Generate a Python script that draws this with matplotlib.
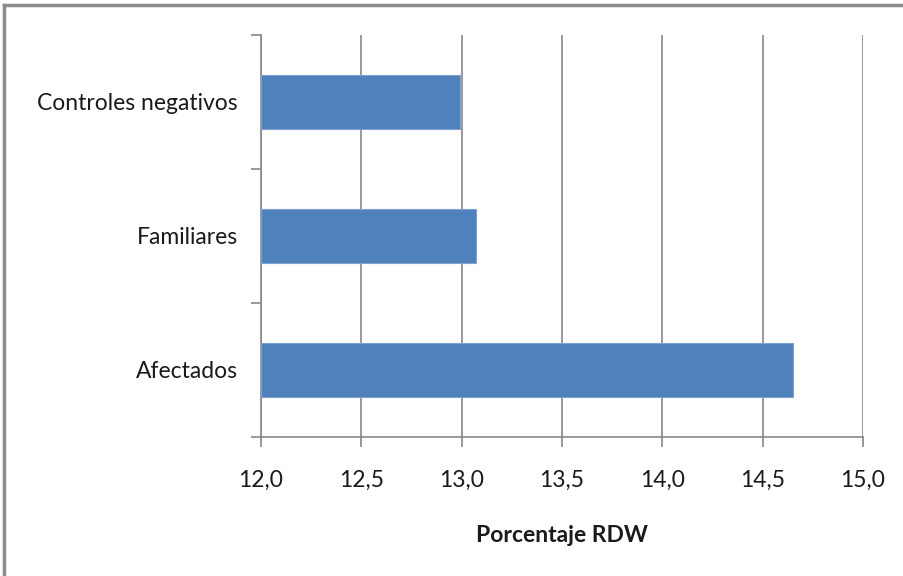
import matplotlib
matplotlib.use("Agg")
import matplotlib.pyplot as plt
from matplotlib.lines import Line2D

categories = ["Afectados", "Familiares", "Controles negativos"]
values = [14.65, 13.07, 12.99]
xticks = [12.0, 12.5, 13.0, 13.5, 14.0, 14.5, 15.0]
xtick_labels = ["12,0", "12,5", "13,0", "13,5", "14,0", "14,5", "15,0"]

W, H = 904, 576
fig = plt.figure(figsize=(W / 100, H / 100), dpi=100)
plt.rcParams['font.family'] = ['Lato', 'DejaVu Sans']

# axes box in pixels: x 261..863, y 35..437
ax = fig.add_axes([261 / W, 1 - 437 / H, (863 - 261) / W, (437 - 35) / H])

base = xticks[0]
ax.barh(range(len(categories)), [v - base for v in values], left=base, height=0.4,
        color="#4f81bd", edgecolor="#7fa3d1", linewidth=0.8, zorder=3)

ax.set_xlim(12.0, 15.0)
ax.set_ylim(-0.5, len(categories) - 0.5)
ax.set_xticks(xticks)
ax.set_xticklabels(xtick_labels, fontsize=16.5, color="#1a1a1a")
ax.set_yticks(range(len(categories)))
ax.set_yticklabels(categories, fontsize=16.5, color="#1a1a1a")
ax.set_yticks([-0.5, 0.5, 1.5, 2.5], minor=True)
ax.tick_params(axis="y", which="major", length=0, pad=16.5)
ax.tick_params(axis="y", which="minor", length=7, width=1.2, color="#878787", direction="out")
ax.tick_params(axis="x", which="major", length=7, width=1.2, color="#878787", direction="out", pad=17)

ax.grid(axis="x", color="#878787", linewidth=1.2, zorder=0)
for s in ["top", "right"]:
    ax.spines[s].set_visible(False)
for s in ["left", "bottom"]:
    ax.spines[s].set_color("#878787")
    ax.spines[s].set_linewidth(1.2)

ax.set_xlabel("Porcentaje RDW", fontsize=16.5, fontweight="bold", color="#1a1a1a", labelpad=24)

# outer chart border (top and left edges)
fig.add_artist(Line2D([4 / W, 1.0], [1 - 5 / H, 1 - 5 / H], color="#8c8c8c", linewidth=2.5,
                      transform=fig.transFigure))
fig.add_artist(Line2D([4 / W, 4 / W], [0.0, 1 - 5 / H], color="#8c8c8c", linewidth=2.5,
                      transform=fig.transFigure))

fig.savefig("out.png", dpi=100)
